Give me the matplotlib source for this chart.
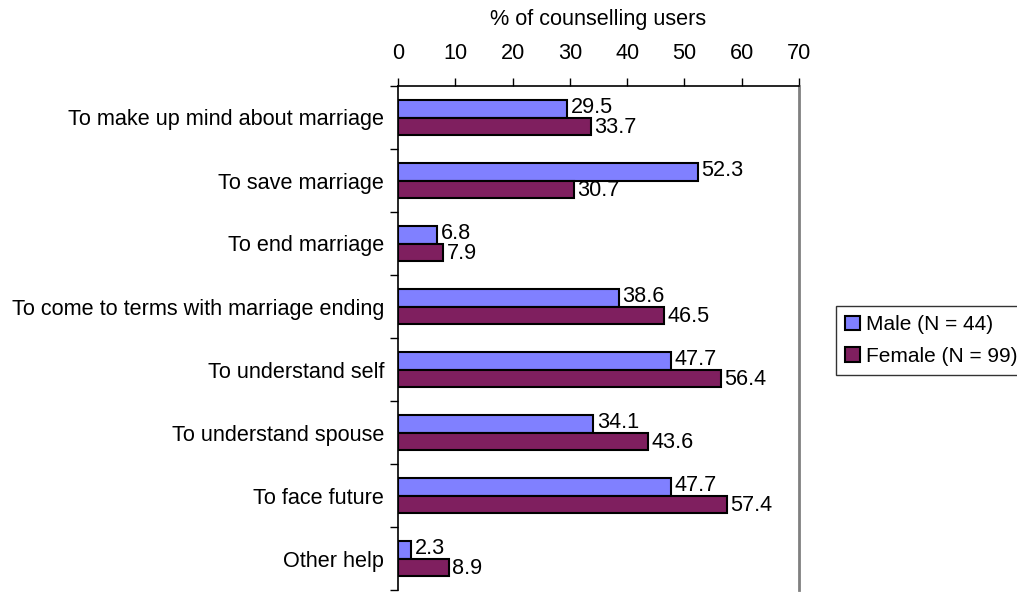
import matplotlib
matplotlib.use("Agg")
import matplotlib.pyplot as plt
import numpy as np

plt.rcParams['font.family'] = ['Liberation Sans', 'DejaVu Sans']

categories = ["To make up mind about marriage", "To save marriage", "To end marriage",
              "To come to terms with marriage ending", "To understand self",
              "To understand spouse", "To face future", "Other help"]
male = [29.5, 52.3, 6.8, 38.6, 47.7, 34.1, 47.7, 2.3]
female = [33.7, 30.7, 7.9, 46.5, 56.4, 43.6, 57.4, 8.9]
xticks = [0, 10, 20, 30, 40, 50, 60, 70]

fig = plt.figure(figsize=(10.17, 5.92), dpi=100)
ax = fig.add_axes([398/1017, 1-590/592, 401/1017, 504/592])

n = len(categories)
y = np.arange(n)
h = 0.27
fs = 15.6
ax.barh(y - h/2, male, height=h, color='#8080FF', edgecolor='black', linewidth=1.5,
        label='Male (N = 44)')
ax.barh(y + h/2, female, height=h, color='#7F1F5F', edgecolor='black', linewidth=1.5,
        label='Female (N = 99)')
for yi, v in zip(y, male):
    ax.text(v + 0.6, yi - h/2 - 0.02, f"{v}", va='center', ha='left', fontsize=fs)
for yi, v in zip(y, female):
    ax.text(v + 0.6, yi + h/2 + 0.02, f"{v}", va='center', ha='left', fontsize=fs)

ax.set_ylim(n - 0.5, -0.5)
ax.set_xlim(0, 70)
ax.xaxis.tick_top()
ax.xaxis.set_label_position('top')
ax.set_xticks(xticks)
ax.set_xticklabels([str(t) for t in xticks], fontsize=fs)
ax.set_xlabel('% of counselling users', fontsize=fs, labelpad=13)
ax.tick_params(axis='x', direction='out', length=6, width=1, pad=10)

ax.set_yticks(y)
ax.set_yticklabels(categories, fontsize=fs)
ax.set_yticks(np.arange(n + 1) - 0.5, minor=True)
ax.tick_params(axis='y', which='major', length=0, pad=10)
ax.tick_params(axis='y', which='minor', direction='out', length=6, width=1)

ax.spines['bottom'].set_visible(False)
ax.spines['left'].set_linewidth(1.2)
ax.spines['top'].set_linewidth(1.2)
ax.spines['right'].set_color('#808080')
ax.spines['right'].set_linewidth(2)

leg = fig.legend(loc='upper left', bbox_to_anchor=(836/1017, 1-306/592), fontsize=15,
                 frameon=True, fancybox=False, edgecolor='black', handlelength=0.7,
                 handleheight=0.7, handletextpad=0.3, borderpad=0.45, labelspacing=0.6,
                 borderaxespad=0)
leg.get_frame().set_linewidth(1)

fig.savefig('out.png', dpi=100)
